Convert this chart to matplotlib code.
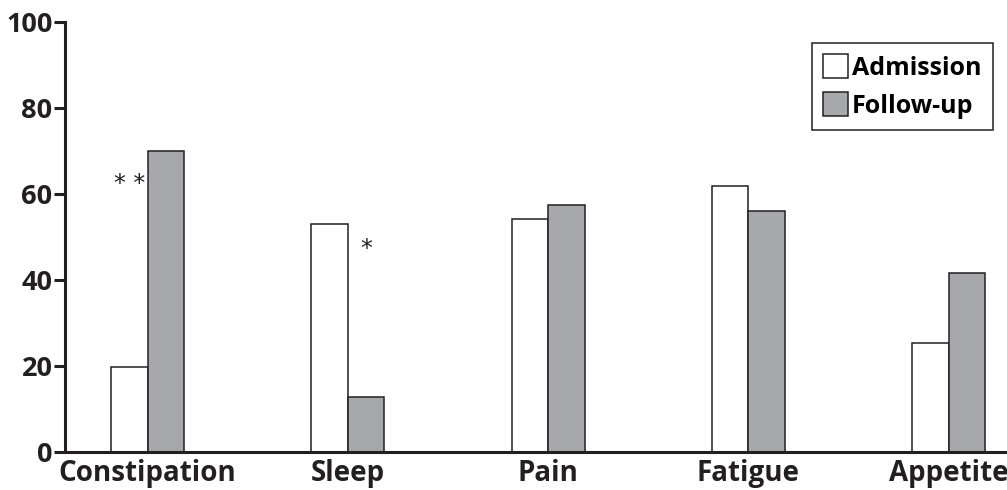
import matplotlib
matplotlib.use("Agg")
import matplotlib.pyplot as plt
import numpy as np
from matplotlib.patches import Patch

categories = ["Constipation", "Sleep", "Pain", "Fatigue", "Appetite"]
admission = [19.8, 53.1, 54.2, 61.9, 25.4]
follow_up = [70.1, 12.8, 57.4, 56.1, 41.6]
y_ticks = [0, 20, 40, 60, 80, 100]
series_labels = ["Admission", "Follow-up"]

INK = "#231f20"
GREY = "#a7a8ab"

plt.rcParams["font.family"] = ["Open Sans", "DejaVu Sans"]

fig = plt.figure(figsize=(10.07, 4.9), dpi=100)
ax = fig.add_axes([0.0645, 0.0776, 0.9355, 0.8776])

x = np.arange(len(categories))
width = 0.182
ax.bar(x - width / 2, admission, width, color="white", edgecolor=INK, linewidth=1.1)
ax.bar(x + width / 2, follow_up, width, color=GREY, edgecolor=INK, linewidth=1.1)

# significance marks
ax.text(x[0] - width / 2, 62.3, "* *", ha="center", va="center", fontsize=17, color=INK,
        family="DejaVu Sans")
ax.text(x[1] + width / 2, 47.3, "*", ha="center", va="center", fontsize=17, color=INK,
        family="DejaVu Sans")

ax.set_xlim(-0.413, 4.292)
ax.set_ylim(0, 100)
ax.set_yticks(y_ticks)
ax.set_xticks(x)
ax.set_xticklabels(categories)

for side in ("top", "right"):
    ax.spines[side].set_visible(False)
for side in ("left", "bottom"):
    ax.spines[side].set_linewidth(2.2)
    ax.spines[side].set_color(INK)

ax.tick_params(axis="y", length=8, width=2.2, color=INK, pad=1, labelsize=19.5)
ax.tick_params(axis="x", length=0, pad=5, labelsize=20)
for lab in ax.get_xticklabels() + ax.get_yticklabels():
    lab.set_fontweight("bold")
    lab.set_color(INK)

handles = [Patch(facecolor="white", edgecolor=INK, linewidth=1.1),
           Patch(facecolor=GREY, edgecolor=INK, linewidth=1.1)]
leg = ax.legend(handles, series_labels, loc="upper right", bbox_to_anchor=(0.985, 0.951),
                prop={"weight": "bold", "size": 18}, fancybox=False, framealpha=1,
                edgecolor=INK, handlelength=1.0, handleheight=1.1, handletextpad=0.15,
                borderpad=0.45, labelspacing=0.45, borderaxespad=0)
leg.get_frame().set_linewidth(1.1)

fig.savefig("out.png", dpi=100)
